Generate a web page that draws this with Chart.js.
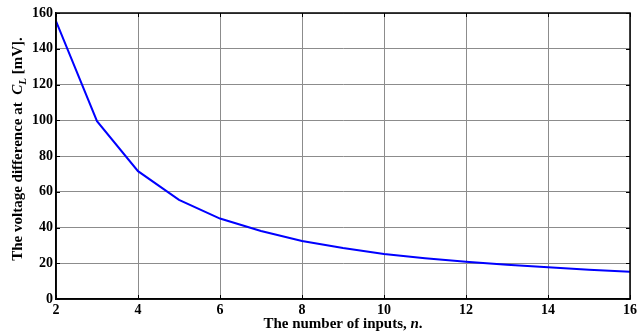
<!DOCTYPE html>
<html>
<head>
<meta charset="utf-8">
<script src="https://cdn.jsdelivr.net/npm/chart.js@4"></script>
<style>
  html, body { margin: 0; padding: 0; background: #fff; }
  #wrap { width: 640px; height: 334px; }
</style>
</head>
<body>
<div id="wrap"><canvas id="chart"></canvas></div>
<script>
// data
const inputs = [2, 3, 4, 5, 6, 7, 8, 9, 10, 11, 12, 13, 14, 15, 16];
const voltageDiff = [155.5, 99.5, 71.5, 55.5, 45, 38, 32.5, 28.5, 25.2, 22.8, 20.8, 19.2, 17.8, 16.4, 15.2];
const xTicks = [2, 4, 6, 8, 10, 12, 14, 16];
const yTicks = [0, 20, 40, 60, 80, 100, 120, 140, 160];

const FONT = "'Liberation Serif', 'Times New Roman', serif";

// draws the frame, inward ticks on top/right and the axis titles (with italic / subscript parts)
const frameAndTitles = {
  id: 'frameAndTitles',
  afterDraw(chart) {
    const ctx = chart.ctx;
    const a = chart.chartArea;
    const xs = chart.scales.x, ys = chart.scales.y;
    ctx.save();
    ctx.strokeStyle = '#000';
    ctx.lineWidth = 1.5;
    ctx.strokeRect(a.left, a.top, a.right - a.left, a.bottom - a.top);
    ctx.lineWidth = 1;
    xTicks.forEach(v => {
      const px = Math.round(xs.getPixelForValue(v)) + 0.5;
      ctx.beginPath();
      ctx.moveTo(px, a.top); ctx.lineTo(px, a.top + 4);
      ctx.moveTo(px, a.bottom); ctx.lineTo(px, a.bottom - 4);
      ctx.stroke();
    });
    yTicks.forEach(v => {
      const py = Math.round(ys.getPixelForValue(v)) + 0.5;
      ctx.beginPath();
      ctx.moveTo(a.left, py); ctx.lineTo(a.left + 4, py);
      ctx.moveTo(a.right, py); ctx.lineTo(a.right - 4, py);
      ctx.stroke();
    });

    ctx.fillStyle = '#000';
    ctx.textBaseline = 'alphabetic';
    const bold = 'bold 15px ' + FONT;
    const boldIt = 'italic bold 15px ' + FONT;
    const sub = 'italic bold 11px ' + FONT;

    function drawParts(parts, cx, cy) {
      let total = 0;
      parts.forEach(p => { ctx.font = p.font; p.w = ctx.measureText(p.text).width; total += p.w; });
      let x = cx - total / 2;
      parts.forEach(p => {
        ctx.font = p.font;
        ctx.fillText(p.text, x, cy + (p.dy || 0));
        x += p.w;
      });
    }

    // x title
    drawParts([
      { text: 'The number of inputs, ', font: bold },
      { text: 'n', font: boldIt },
      { text: '.', font: bold }
    ], (a.left + a.right) / 2, 328);

    // y title, rotated
    ctx.translate(22, 149);
    ctx.rotate(-Math.PI / 2);
    drawParts([
      { text: 'The voltage difference at  ', font: bold },
      { text: 'C', font: boldIt },
      { text: 'L', font: sub, dy: 4 },
      { text: ' [mV].', font: bold }
    ], 0, 0);
    ctx.restore();
  }
};

const ctx = document.getElementById('chart').getContext('2d');
new Chart(ctx, {
  type: 'line',
  data: {
    labels: inputs,
    datasets: [{
      data: inputs.map((n, i) => ({ x: n, y: voltageDiff[i] })),
      borderColor: '#0000ff',
      borderWidth: 2,
      pointRadius: 0,
      tension: 0,
      fill: false
    }]
  },
  options: {
    responsive: true,
    maintainAspectRatio: false,
    animation: false,
    layout: { padding: { left: 0, right: 8, top: 13, bottom: 0 } },
    plugins: {
      legend: { display: false },
      title: { display: false },
      tooltip: { enabled: false }
    },
    scales: {
      x: {
        type: 'linear',
        min: 2,
        max: 16,
        afterBuildTicks: s => { s.ticks = xTicks.map(v => ({ value: v })); },
        afterFit: s => { s.height = 35; },
        grid: { color: '#8c8c8c', lineWidth: 1, drawTicks: false },
        border: { color: '#000', width: 1.5 },
        ticks: {
          color: '#000',
          padding: 3,
          maxRotation: 0,
          font: { family: FONT, size: 14, weight: 'bold' }
        }
      },
      y: {
        min: 0,
        max: 160,
        afterBuildTicks: s => { s.ticks = yTicks.map(v => ({ value: v })); },
        afterFit: s => { s.width = 56; },
        grid: { color: '#8c8c8c', lineWidth: 1, drawTicks: false },
        border: { color: '#000', width: 1.5 },
        ticks: {
          color: '#000',
          padding: 3,
          font: { family: FONT, size: 14, weight: 'bold' }
        }
      }
    }
  },
  plugins: [frameAndTitles]
});
</script>
</body>
</html>
